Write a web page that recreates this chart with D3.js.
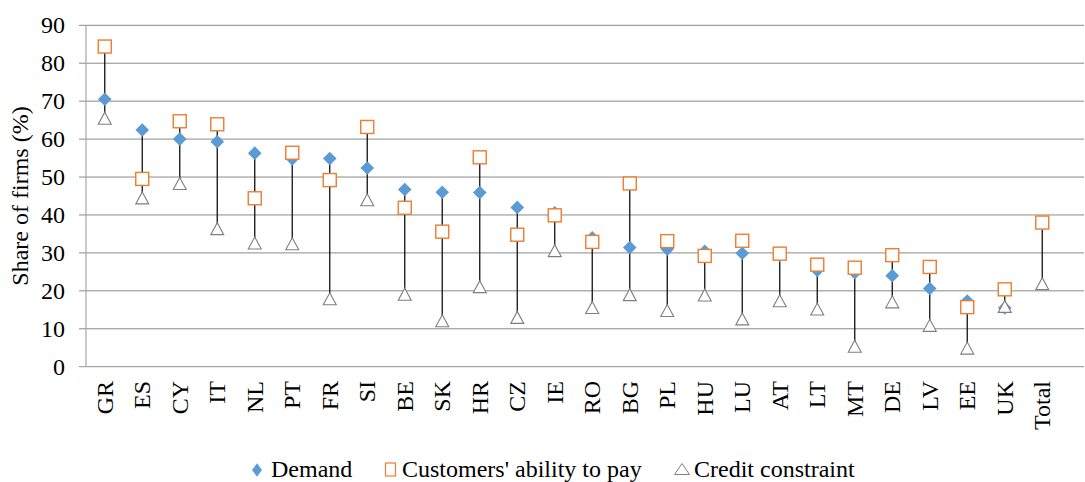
<!DOCTYPE html>
<html><head><meta charset="utf-8">
<script src="https://cdn.jsdelivr.net/npm/d3@7"></script>
<style>body{margin:0;background:#fff}svg{display:block}</style>
</head><body><svg id="c" width="1085" height="482"></svg>
<script>
const categories = ["GR","ES","CY","IT","NL","PT","FR","SI","BE","SK","HR","CZ","IE","RO","BG","PL","HU","LU","AT","LT","MT","DE","LV","EE","UK","Total"];
const demand  = [70.5,62.4,60.0,59.3,56.3,54.8,54.9,52.4,46.7,46.0,45.9,42.0,40.6,34.0,31.4,31.0,30.4,29.9,29.3,25.4,24.8,24.0,20.6,17.3,15.5,37.8];
const ability = [84.4,49.5,64.7,63.9,44.4,56.4,49.2,63.2,41.9,35.6,55.2,34.8,39.9,32.9,48.3,33.1,29.2,33.2,29.8,26.9,26.1,29.4,26.3,15.7,20.4,38.0];
const credit  = [65.5,44.5,48.3,36.4,32.6,32.4,17.9,44.0,19.1,12.1,21.1,13.0,30.6,15.6,19.0,14.8,18.9,12.6,17.4,15.2,5.4,17.1,10.9,4.9,15.9,21.9];
const yTicks = [0,10,20,30,40,50,60,70,80,90];
const seriesNames = ["Demand","Customers' ability to pay","Credit constraint"];

const FONT = "'Liberation Serif', 'Times New Roman', Times, serif";
const FS = 24;
const svg = d3.select("#c").attr("font-family", FONT);
const left = 86, plotRight = 1084, bandRight = 86 + 26*37.5;
const y = d3.scaleLinear().domain([0,90]).range([366.7,25.3]);
const x = d3.scaleBand().domain(categories).range([left, bandRight]).padding(0);
const cx = c => x(c) + x.bandwidth()/2;

svg.append("g").selectAll("line").data(yTicks.filter(d=>d>0)).join("line")
  .attr("x1", 79).attr("x2", plotRight).attr("y1", d=>y(d)).attr("y2", d=>y(d))
  .attr("stroke", "#8a8a8a").attr("stroke-width", 1);
svg.append("line").attr("x1",79).attr("x2",plotRight).attr("y1",y(0)).attr("y2",y(0)).attr("stroke","#a6a6a6").attr("stroke-width",1.2);
svg.append("line").attr("x1",left).attr("x2",left).attr("y1",y(90)).attr("y2",y(0)).attr("stroke","#a6a6a6").attr("stroke-width",1.2);

svg.append("g").selectAll("text").data(yTicks).join("text")
  .attr("font-family", FONT)
  .attr("x", 65).attr("y", d=>y(d)+8)
  .attr("text-anchor","end").attr("font-size",FS).attr("fill","#000").text(d=>d);

svg.append("text").attr("font-family", FONT).attr("transform","translate(28,196) rotate(-90)")
  .attr("text-anchor","middle").attr("font-size",FS).attr("fill","#000").text("Share of firms (%)");

svg.append("g").selectAll("text").data(categories).join("text")
  .attr("font-family", FONT)
  .attr("transform", d=>`translate(${cx(d)+8},381) rotate(-90)`)
  .attr("text-anchor","end").attr("font-size",FS).attr("fill","#000").text(d=>d);

svg.append("g").selectAll("line").data(categories).join("line")
  .attr("x1", d=>cx(d)).attr("x2", d=>cx(d))
  .attr("y1", (d,i)=>y(Math.max(demand[i],ability[i],credit[i])))
  .attr("y2", (d,i)=>y(Math.min(demand[i],ability[i],credit[i])))
  .attr("stroke","#111").attr("stroke-width",1.3);

const diamond = (h,v)=>`M0,${-v}L${h},0L0,${v}L${-h},0Z`;
svg.append("g").selectAll("path").data(categories).join("path")
  .attr("transform",(d,i)=>`translate(${cx(d)},${y(demand[i])})`)
  .attr("d", diamond(6.8,6.8)).attr("fill","#5b9bd5");
svg.append("g").selectAll("rect").data(categories).join("rect")
  .attr("x", d=>cx(d)-6.5).attr("y",(d,i)=>y(ability[i])-6.5)
  .attr("width",13).attr("height",13).attr("fill","#fff").attr("stroke","#ed7d31").attr("stroke-width",1.4);
const tri = (w,h)=>`M0,${-h/2}L${w/2},${h/2}L${-w/2},${h/2}Z`;
svg.append("g").selectAll("path").data(categories).join("path")
  .attr("transform",(d,i)=>`translate(${cx(d)},${y(credit[i])})`)
  .attr("d", tri(13,12)).attr("fill","#fff").attr("stroke","#7f7f7f").attr("stroke-width",1.1);

const lg = svg.append("g");
lg.append("path").attr("transform","translate(257,470)").attr("d",diamond(5,6.7)).attr("fill","#5b9bd5");
lg.append("rect").attr("x",385.5).attr("y",463).attr("width",10).attr("height",13).attr("fill","#fff").attr("stroke","#ed7d31").attr("stroke-width",1.2);
lg.append("path").attr("transform","translate(682,469)").attr("d",tri(15,11)).attr("fill","#fff").attr("stroke","#7f7f7f").attr("stroke-width",1);
const lx = [271,402,694];
lg.selectAll("text").data(seriesNames).join("text")
  .attr("font-family", FONT)
  .attr("x",(d,i)=>lx[i]).attr("y",477)
  .attr("font-size",FS).attr("fill","#000").text(d=>d);
</script></body></html>
